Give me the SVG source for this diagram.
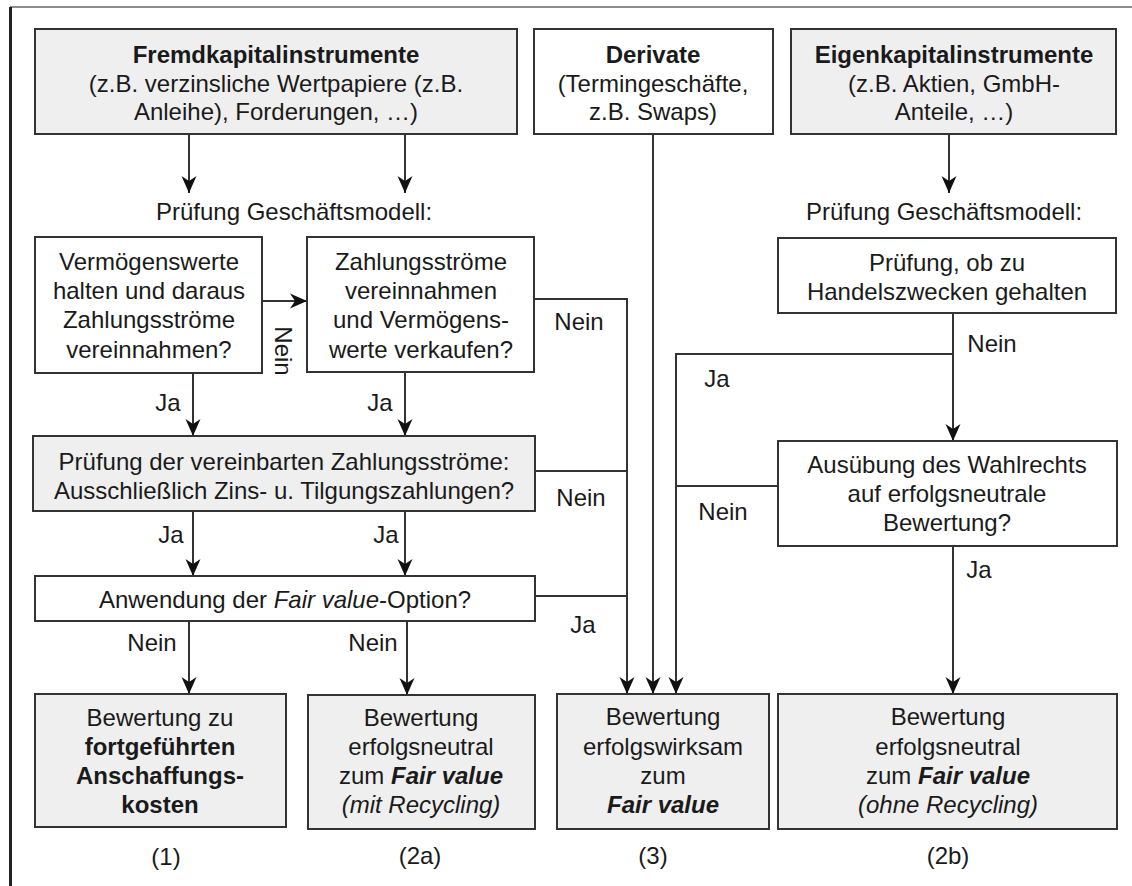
<svg xmlns="http://www.w3.org/2000/svg" width="1132" height="886" viewBox="0 0 1132 886">
<style>
text{font-family:"Liberation Sans",Arial,sans-serif;font-size:24px;fill:#1a1a1a;text-anchor:middle}
.b{font-weight:bold}
.i{font-style:italic}
.box{stroke:#333;stroke-width:2}
.g{fill:#efefef}
.w{fill:#fff}
.c{fill:none;stroke:#333;stroke-width:2}
</style>
<defs>
<marker id="ah" markerUnits="userSpaceOnUse" markerWidth="18" markerHeight="18" refX="17" refY="9" orient="auto">
<path d="M0,1.5 L17,9 L0,16.5 L5,9 z" fill="#111"/>
</marker>
</defs>
<rect width="1132" height="886" fill="#fff"/>
<g id="frame">
<line x1="10" y1="7" x2="1132" y2="7" stroke="#666" stroke-width="1.5"/>
<line x1="10.5" y1="7" x2="10.5" y2="886" stroke="#222" stroke-width="3"/>
</g>
<g id="connectors">
<line class="c" x1="189" y1="134" x2="189" y2="193" marker-end="url(#ah)"/>
<line class="c" x1="405" y1="134" x2="405" y2="193" marker-end="url(#ah)"/>
<line class="c" x1="949" y1="134" x2="949" y2="193" marker-end="url(#ah)"/>
<line class="c" x1="262" y1="301" x2="307" y2="301" marker-end="url(#ah)"/>
<line class="c" x1="193" y1="373" x2="193" y2="436" marker-end="url(#ah)"/>
<line class="c" x1="405" y1="372" x2="405" y2="436" marker-end="url(#ah)"/>
<line class="c" x1="193" y1="511" x2="193" y2="576" marker-end="url(#ah)"/>
<line class="c" x1="405" y1="511" x2="405" y2="576" marker-end="url(#ah)"/>
<line class="c" x1="189" y1="621" x2="189" y2="694" marker-end="url(#ah)"/>
<line class="c" x1="407" y1="621" x2="407" y2="695" marker-end="url(#ah)"/>
<polyline class="c" points="534,299 627,299 627,694" marker-end="url(#ah)"/>
<line class="c" x1="535" y1="471" x2="627" y2="471"/>
<line class="c" x1="535" y1="596" x2="627" y2="596"/>
<line class="c" x1="653" y1="134" x2="653" y2="694" marker-end="url(#ah)"/>
<line class="c" x1="953" y1="313" x2="953" y2="441" marker-end="url(#ah)"/>
<polyline class="c" points="953,354 676,354 676,694" marker-end="url(#ah)"/>
<line class="c" x1="778" y1="486" x2="676" y2="486"/>
<line class="c" x1="953" y1="546" x2="953" y2="694" marker-end="url(#ah)"/>
</g>
<g id="n-fremd">
<rect class="box g" x="35" y="29" width="482" height="105"/>
<text x="276" y="63" class="b">Fremdkapitalinstrumente</text>
<text x="276" y="92">(z.B. verzinsliche  Wertpapiere (z.B.</text>
<text x="276" y="120">Anleihe), Forderungen, …)</text>
</g>
<g id="n-deriv">
<rect class="box w" x="534" y="29" width="239" height="105"/>
<text x="653" y="63" class="b">Derivate</text>
<text x="653" y="92">(Termingeschäfte,</text>
<text x="653" y="120">z.B. Swaps)</text>
</g>
<g id="n-eigen">
<rect class="box g" x="791" y="29" width="325" height="105"/>
<text x="954" y="63" class="b">Eigenkapitalinstrumente</text>
<text x="954" y="92">(z.B. Aktien, GmbH-</text>
<text x="954" y="120">Anteile, …)</text>
</g>
<g id="l-pruef1"><text x="294" y="220">Prüfung  Geschäftsmodell:</text></g>
<g id="l-pruef2"><text x="944" y="220">Prüfung  Geschäftsmodell:</text></g>
<g id="n-halten">
<rect class="box w" x="35" y="237" width="227" height="136"/>
<text x="149" y="270">Vermögenswerte</text>
<text x="149" y="299">halten und daraus</text>
<text x="149" y="328">Zahlungsströme</text>
<text x="149" y="358">vereinnahmen?</text>
</g>
<g id="n-verkaufen">
<rect class="box w" x="307" y="237" width="227" height="135"/>
<text x="421" y="270">Zahlungsströme</text>
<text x="421" y="299">vereinnahmen</text>
<text x="421" y="328">und Vermögens-</text>
<text x="421" y="358">werte verkaufen?</text>
</g>
<g id="n-zahlung">
<rect class="box g" x="33" y="436" width="502" height="75"/>
<text x="284" y="470">Prüfung  der vereinbarten Zahlungsströme:</text>
<text x="284" y="499">Ausschließlich Zins- u. Tilgungszahlungen?</text>
</g>
<g id="n-option">
<rect class="box w" x="35" y="576" width="500" height="45"/>
<text x="285" y="608">Anwendung  der <tspan class="i">Fair value</tspan>-Option?</text>
</g>
<g id="n-handel">
<rect class="box w" x="778" y="238" width="338" height="75"/>
<text x="947" y="271">Prüfung,  ob zu</text>
<text x="947" y="300">Handelszwecken  gehalten</text>
</g>
<g id="n-wahlrecht">
<rect class="box w" x="778" y="441" width="339" height="105"/>
<text x="947" y="473">Ausübung  des Wahlrechts</text>
<text x="947" y="502">auf erfolgsneutrale</text>
<text x="947" y="531">Bewertung?</text>
</g>
<g id="n-ak">
<rect class="box g" x="35" y="694" width="251" height="133"/>
<text x="160" y="726">Bewertung  zu</text>
<text x="160" y="755" class="b">fortgeführten</text>
<text x="160" y="784" class="b">Anschaffungs-</text>
<text x="160" y="813" class="b">kosten</text>
</g>
<g id="n-fvoci">
<rect class="box g" x="308" y="695" width="227" height="134"/>
<text x="421" y="726">Bewertung</text>
<text x="421" y="755">erfolgsneutral</text>
<text x="421" y="784">zum  <tspan class="b i">Fair value</tspan></text>
<text x="421" y="813" class="i">(mit Recycling)</text>
</g>
<g id="n-fvpl">
<rect class="box g" x="557" y="694" width="212" height="135"/>
<text x="663" y="725">Bewertung</text>
<text x="663" y="755">erfolgswirksam</text>
<text x="663" y="784">zum</text>
<text x="663" y="813" class="b i">Fair value</text>
</g>
<g id="n-fvoci2">
<rect class="box g" x="778" y="694" width="339" height="135"/>
<text x="948" y="725">Bewertung</text>
<text x="948" y="755">erfolgsneutral</text>
<text x="948" y="784">zum  <tspan class="b i">Fair value</tspan></text>
<text x="948" y="813" class="i">(ohne Recycling)</text>
</g>
<g id="labels">
<text transform="translate(275,351) rotate(90)">Nein</text>
<text x="168" y="411">Ja</text>
<text x="380" y="411">Ja</text>
<text x="171" y="543">Ja</text>
<text x="386" y="543">Ja</text>
<text x="152" y="651">Nein</text>
<text x="373" y="651">Nein</text>
<text x="579" y="330">Nein</text>
<text x="581" y="506">Nein</text>
<text x="583" y="633">Ja</text>
<text x="992" y="352">Nein</text>
<text x="717" y="387">Ja</text>
<text x="723" y="520">Nein</text>
<text x="979" y="578">Ja</text>
<text x="166" y="865">(1)</text>
<text x="420" y="864">(2a)</text>
<text x="653" y="864">(3)</text>
<text x="948" y="864">(2b)</text>
</g>
</svg>
